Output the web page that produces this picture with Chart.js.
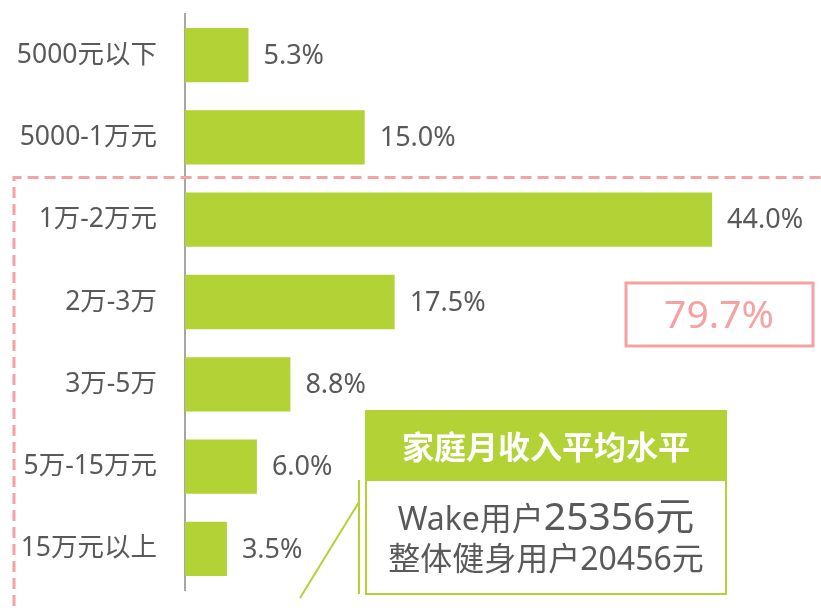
<!DOCTYPE html>
<html>
<head>
<meta charset="utf-8">
<script src="https://cdn.jsdelivr.net/npm/chart.js@4"></script>
<style>
  body { margin: 0; background: #fff; }
  #wrap { width: 821px; height: 610px; position: relative; }
</style>
</head>
<body>
<div id="wrap"><canvas id="chart-revenu"></canvas></div>
<script>
// Données
const categories = ['5000元以下', '5000-1万元', '1万-2万元', '2万-3万', '3万-5万', '5万-15万元', '15万元以上'];
const valeurs = [5.3, 15.0, 44.0, 17.5, 8.8, 6.0, 3.5];
const totalEncadre = '79.7%';
const titreEncadre = '家庭月收入平均水平';
const ligneWake = ['Wake用户', '25356元'];
const ligneTous = '整体健身用户20456元';

const VERT = '#b2d235';
const ROSE = '#f4a2a2';
const GRIS = '#595959';
const POLICE = '"Noto Sans", "Noto Sans CJK SC", sans-serif';

Chart.defaults.font.family = POLICE;

// Étiquettes de valeur + annotations (encadrés)
const annotations = {
    id: 'annotations',
    afterDatasetsDraw(chart) {
        const ctx = chart.ctx;
        const y = chart.scales.y;
        const meta = chart.getDatasetMeta(0);

        ctx.save();
        ctx.font = '27px ' + POLICE;
        ctx.fillStyle = GRIS;
        ctx.textBaseline = 'middle';
        ctx.textAlign = 'left';
        meta.data.forEach((bar, i) => {
            ctx.fillText(valeurs[i].toFixed(1) + '%', bar.x + 15, bar.y + 1);
        });

        // cadre pointillé autour des catégories 1万 et plus
        const haut = (y.getPixelForValue(1) + y.getPixelForValue(2)) / 2 - 1;
        ctx.strokeStyle = ROSE;
        ctx.lineWidth = 3;
        ctx.setLineDash([11, 6]);
        ctx.beginPath();
        ctx.moveTo(14, 640);
        ctx.lineTo(14, haut);
        ctx.lineTo(840, haut);
        ctx.stroke();
        ctx.setLineDash([]);

        // boîte 79.7%
        ctx.lineWidth = 3;
        ctx.strokeRect(626, 283, 187, 63);
        ctx.fillStyle = ROSE;
        ctx.font = '39px ' + POLICE;
        ctx.textAlign = 'center';
        ctx.textBaseline = 'alphabetic';
        ctx.fillText(totalEncadre, 719, 328);

        // encadré vert
        ctx.fillStyle = VERT;
        ctx.fillRect(365, 410, 362, 70);
        ctx.strokeStyle = VERT;
        ctx.lineWidth = 2;
        ctx.strokeRect(366, 480, 360, 114);
        ctx.fillStyle = '#fff';
        ctx.font = 'bold 32px ' + POLICE;
        ctx.fillText(titreEncadre, 546, 459);

        // ligne 1, deux tailles de police
        ctx.fillStyle = GRIS;
        ctx.font = '32px ' + POLICE;
        const w1 = ctx.measureText(ligneWake[0]).width;
        ctx.font = '39px ' + POLICE;
        const w2 = ctx.measureText(ligneWake[1]).width;
        const x0 = 546 - (w1 + w2) / 2;
        ctx.textAlign = 'left';
        ctx.font = '32px ' + POLICE;
        ctx.fillText(ligneWake[0], x0, 530);
        ctx.font = '39px ' + POLICE;
        ctx.fillText(ligneWake[1], x0 + w1, 530);

        ctx.font = '32px ' + POLICE;
        ctx.textAlign = 'center';
        ctx.fillText(ligneTous, 546, 570);

        // crochet vert
        ctx.strokeStyle = VERT;
        ctx.lineWidth = 2;
        ctx.beginPath();
        ctx.moveTo(359, 480);
        ctx.lineTo(359, 594);
        ctx.moveTo(359, 502);
        ctx.lineTo(300, 598);
        ctx.stroke();
        ctx.restore();
    }
};

new Chart(document.getElementById('chart-revenu'), {
    type: 'bar',
    data: {
        labels: categories,
        datasets: [{
            data: valeurs,
            backgroundColor: VERT,
            borderWidth: 0,
            barPercentage: 0.66,
            categoryPercentage: 1
        }]
    },
    options: {
        indexAxis: 'y',
        responsive: true,
        maintainAspectRatio: false,
        animation: false,
        layout: { padding: { top: 14, bottom: 20, left: 0, right: 37 } },
        plugins: { legend: { display: false }, tooltip: { enabled: false } },
        scales: {
            x: { display: false, min: 0, max: 50 },
            y: {
                afterFit(scale) {
                    scale.width = 185;
                    scale.paddingTop = 0;
                    scale.paddingBottom = 0;
                },
                grid: { display: false, drawTicks: false },
                border: { display: true, color: '#a6a6a6', width: 2 },
                ticks: { color: GRIS, padding: 28, font: { size: 26.5 } }
            }
        }
    },
    plugins: [annotations]
});
</script>
</body>
</html>
